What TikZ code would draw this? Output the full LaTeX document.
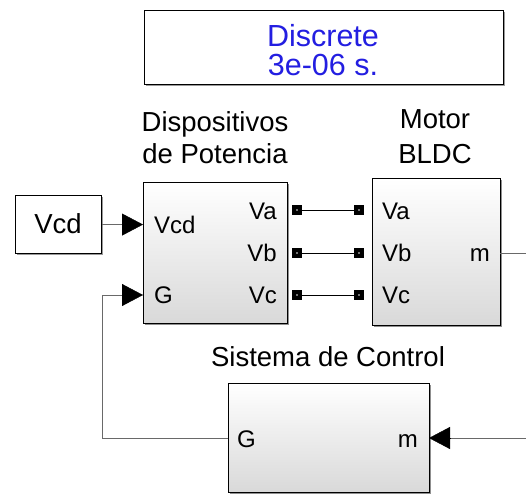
\documentclass[tikz,border=0pt]{standalone}
\usepackage{fontspec}
\setmainfont{Liberation Sans}
\usetikzlibrary{arrows.meta,shadows}
\definecolor{dblue}{RGB}{35,30,225}
\definecolor{wire}{RGB}{105,105,105}
\begin{document}
\begin{tikzpicture}[x=1pt,y=-1pt,
  blk/.style={draw=black, line width=1.1pt, top color=white, bottom color=black!15,
    anchor=north west, inner sep=0pt,
    drop shadow={shadow xshift=1.8pt, shadow yshift=-1.8pt, fill=black!55, opacity=0.8}},
  plainblk/.style={draw=black, line width=1.1pt, fill=white, anchor=north west, inner sep=0pt,
    drop shadow={shadow xshift=1.5pt, shadow yshift=-1.5pt, fill=black!50, opacity=0.8}},
  title/.style={font=\fontsize{27.5}{32}\selectfont, anchor=base, inner sep=0pt},
  plab/.style={font=\fontsize{24}{28}\selectfont, inner sep=0pt},
  port/.style={draw=black, fill=black!55, line width=3.6pt, minimum size=5.5pt, inner sep=0pt},
  wire/.style={draw=wire, line width=0.9pt},
  tip/.style={-{Triangle[length=21pt,width=22pt]}, color=black},
]
\useasboundingbox (0,0) rectangle (526,496);

% blocks
\node[plainblk, minimum width=359pt, minimum height=74pt] (pg) at (144,10) {};
\node[plainblk, minimum width=86pt, minimum height=58pt] (vcd) at (15,195) {};
\node[blk, minimum width=144pt, minimum height=141pt] (dp) at (143,182) {};
\node[blk, minimum width=128pt, minimum height=147pt] (mot) at (372,178) {};
\node[blk, minimum width=201pt, minimum height=109pt] (ctl) at (228,383) {};

% texts
\node[font=\fontsize{30.5}{34}\selectfont, text=dblue, anchor=base, inner sep=0pt] (d1) at (323,46) {Discrete};
\node[font=\fontsize{30.5}{34}\selectfont, text=dblue, anchor=base, inner sep=0pt] (d2) at (323,75) {3e-06 s.};
\node[title] (t1) at (215,131) {Dispositivos};
\node[title] (t2) at (215,163) {de Potencia};
\node[title] (t3) at (435,128) {Motor};
\node[title] (t4) at (435,163) {BLDC};
\node[title] (t5) at (328,366) {Sistema de Control};
\node[font=\fontsize{27.5}{32}\selectfont, anchor=base, inner sep=0pt] (vcdt) at (58,233) {Vcd};

\node[plab, anchor=base west] (l1) at (154,233) {Vcd};
\node[plab, anchor=base west] (l2) at (154,303) {G};
\node[plab, anchor=base east] (l3) at (277,219) {Va};
\node[plab, anchor=base east] (l4) at (277,261) {Vb};
\node[plab, anchor=base east] (l5) at (277,303) {Vc};
\node[plab, anchor=base west] (l6) at (382,219) {Va};
\node[plab, anchor=base west] (l7) at (382,261) {Vb};
\node[plab, anchor=base west] (l8) at (382,303) {Vc};
\node[plab, anchor=base east] (l9) at (490,261) {m};
\node[plab, anchor=base west] (l10) at (237,447) {G};
\node[plab, anchor=base east] (l11) at (418,447) {m};

% physical ports
\node[port] (pa) at (297,210) {};
\node[port] (pb) at (297,253) {};
\node[port] (pc) at (297,295) {};
\node[port] (qa) at (359,210) {};
\node[port] (qb) at (359,253) {};
\node[port] (qc) at (359,295) {};
\draw[draw=black, line width=0.9pt] (pa) -- (qa);
\draw[draw=black, line width=0.9pt] (pb) -- (qb);
\draw[draw=black, line width=0.9pt] (pc) -- (qc);

% signal coordinates
\coordinate (dpG) at (143,295);
\coordinate (ctG) at (228,438);
\coordinate (ctM) at (429,438);
\coordinate (moM) at (500,253);
\coordinate (edA) at (526,253);
\coordinate (edB) at (526,438);

% signal lines
\draw[wire] (vcd.east) -- ([xshift=-20pt]vcd.east -| dp.west);
\draw[tip] ([xshift=-21pt]vcd.east -| dp.west) -- (vcd.east -| dp.west);
\draw[wire] (ctG) -- ++(-126,0) |- ([xshift=-20pt]dpG);
\draw[tip] ([xshift=-21pt]dpG) -- (dpG);
\draw[wire] (moM) -- (edA);
\draw[wire] (edB) -- ([xshift=20pt]ctM);
\draw[tip] ([xshift=21pt]ctM) -- (ctM);
\end{tikzpicture}
\end{document}
